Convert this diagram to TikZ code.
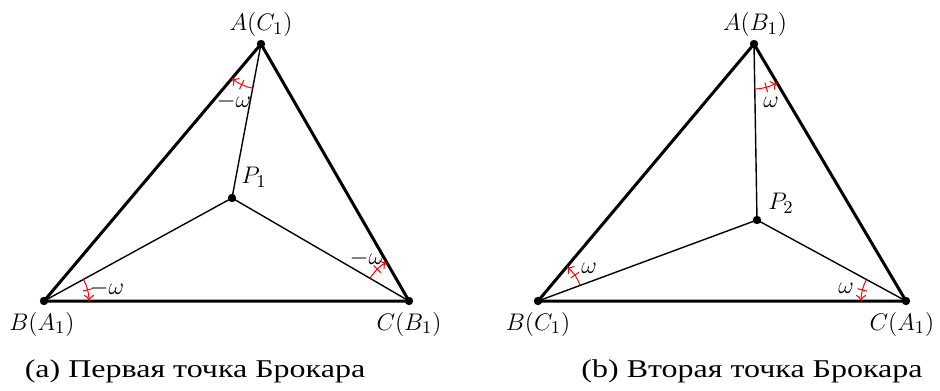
\documentclass[tikz,border=0pt]{standalone}
\usepackage{fontspec}
\newfontfamily\cyrfont[FakeStretch=1.25]{Liberation Serif}
\usetikzlibrary{calc,arrows.meta,decorations.markings}
\tikzset{
  side/.style={line width=1.5pt},
  cevian/.style={line width=0.7pt},
  lbl/.style={font=\fontsize{12.6}{15}\selectfont, inner sep=0pt},
  captext/.style={font=\fontsize{12.8}{15}\cyrfont, inner sep=0pt},
  dotc/.style={fill=black},
  angmark/.style={draw=red, line width=0.5pt, -{To[length=3pt,width=5pt]},
    postaction={decorate, decoration={markings,
      mark=at position 0.5 with {\draw[red,line width=0.5pt,-] (0,-2.5pt)--(0,2.5pt);}}}},
}
\newcommand\angarc[3]{% vertex, from-point, to-point
  \draw[angmark] let \p1=($(#2)-(#1)$), \p2=($(#3)-(#1)$),
    \n1={atan2(\y1,\x1)}, \n2={atan2(\y2,\x2)} in
    ([shift={(\n1:22.5pt)}]#1) arc[start angle=\n1, end angle=\n2, radius=22.5pt];}
\begin{document}
\begin{tikzpicture}[x=0.5pt,y=-0.5pt]
\useasboundingbox (0,0) rectangle (940,390);
% ---------- (a) ----------
\coordinate (A) at (261,44);
\coordinate (B) at (44,301);
\coordinate (C) at (409,301);
\coordinate (P) at (232,198);
\draw[cevian] (A) -- (P) (B) -- (P) (C) -- (P);
\draw[side] (A) -- (B) -- (C) -- cycle;
\angarc{A}{P}{B}
\angarc{B}{P}{C}
\angarc{C}{P}{A}
\foreach \p in {A,B,C,P} \fill[dotc] (\p) circle (2.1pt);
\node[lbl] (lA) at (261,25) {$A(C_1)$};
\node[lbl] (lB) at (42,324) {$B(A_1)$};
\node[lbl] (lC) at (409,324) {$C(B_1)$};
\node[lbl] (lP) at (254,177) {$P_1$};
\node[lbl] (wA) at (234,101) {$-\omega$};
\node[lbl] (wB) at (107,288) {$-\omega$};
\node[lbl] (wC) at (367,258) {$-\omega$};
\node[captext] (capa) at (195,371) {(a) Первая точка Брокара};
% ---------- (b) ----------
\coordinate (A2) at (754,44);
\coordinate (B2) at (538,301);
\coordinate (C2) at (906,301);
\coordinate (Q) at (757,220);
\draw[cevian] (A2) -- (Q) (B2) -- (Q) (C2) -- (Q);
\draw[side] (A2) -- (B2) -- (C2) -- cycle;
\angarc{A2}{Q}{C2}
\angarc{B2}{Q}{A2}
\angarc{C2}{Q}{B2}
\foreach \p in {A2,B2,C2,Q} \fill[dotc] (\p) circle (2.1pt);
\node[lbl] (lA2) at (755,25) {$A(B_1)$};
\node[lbl] (lB2) at (538,324) {$B(C_1)$};
\node[lbl] (lC2) at (902,324) {$C(A_1)$};
\node[lbl] (lQ) at (781,203) {$P_2$};
\node[lbl] (wA2) at (771,102) {$\omega$};
\node[lbl] (wB2) at (589,268) {$\omega$};
\node[lbl] (wC2) at (846,288) {$\omega$};
\node[captext] (capb) at (752,371) {(b) Вторая точка Брокара};
\end{tikzpicture}
\end{document}
